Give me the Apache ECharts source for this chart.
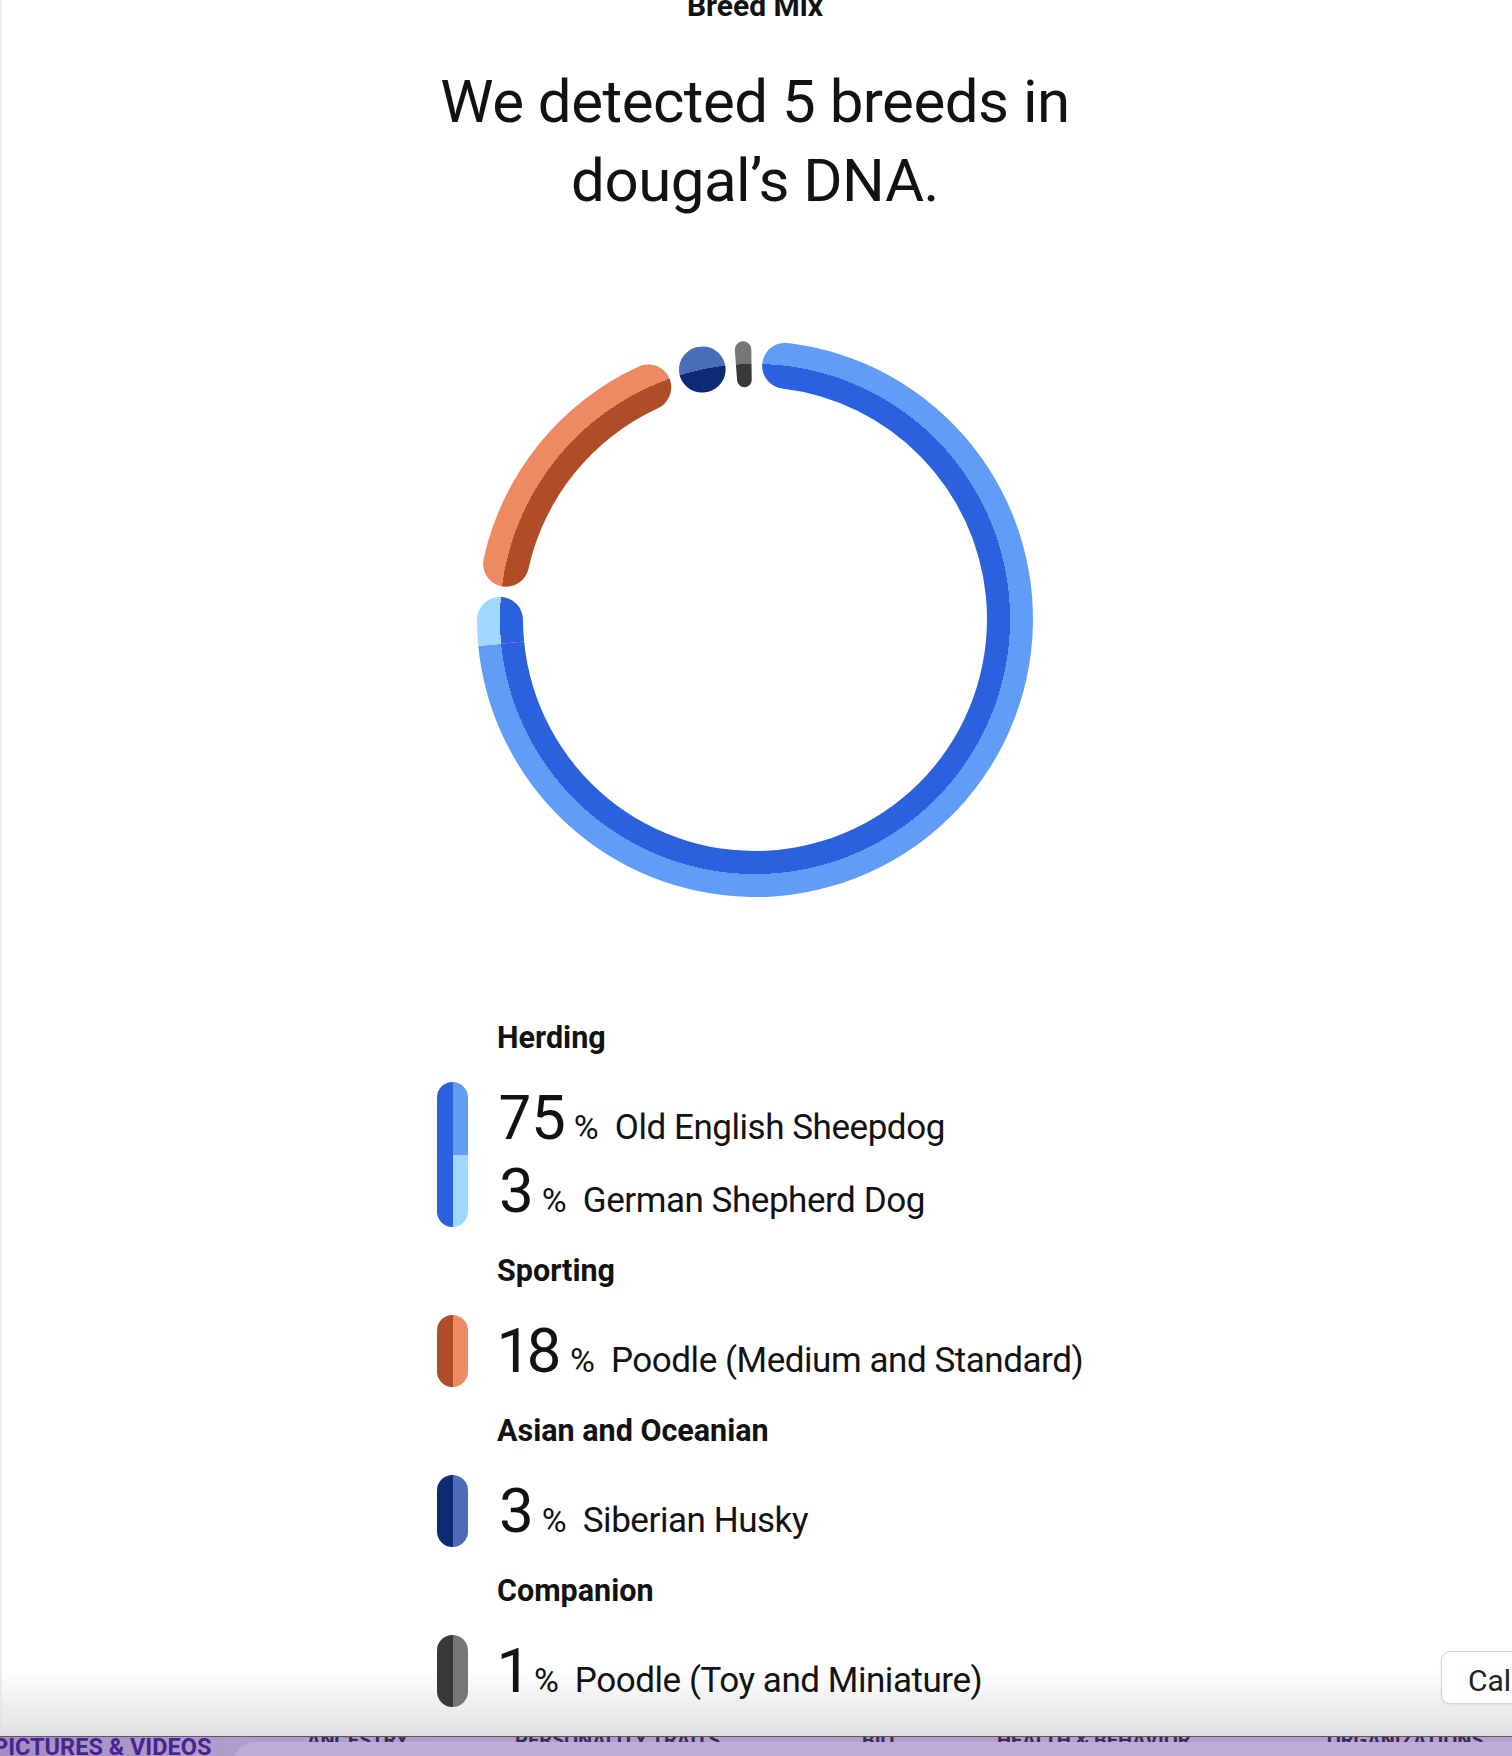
<!DOCTYPE html>
<html>
<head>
<meta charset="utf-8">
<script src="https://cdn.jsdelivr.net/npm/echarts@6/dist/echarts.min.js"></script>
<style>
  html, body { margin: 0; padding: 0; }
  body {
    width: 1512px; height: 1756px; overflow: hidden; position: relative;
    background: #fff; color: #121212;
    font-family: Roboto, 'Liberation Sans', sans-serif;
  }
  .abs { position: absolute; white-space: nowrap; line-height: 1; }
  #edge { position: absolute; left: 0; top: 0; width: 2px; height: 1736px; background: #ededed; }
  #kicker { left: 0; width: 1510px; text-align: center; font-size: 30px; font-weight: 700; top: -9px; }
  .title { left: 0; width: 1510px; text-align: center; font-size: 60px; letter-spacing: -0.5px; }
  #chart { position: absolute; left: 0; top: 300px; width: 1512px; height: 640px; }
  #fade {
    position: absolute; left: 0; top: 1670px; width: 1512px; height: 66px;
    background: linear-gradient(to bottom, rgba(226,226,226,0), rgba(224,224,224,1));
  }
  .head { font-size: 30.5px; font-weight: 700; }
  .row { display: flex; align-items: baseline; }
  .row span { line-height: 1; }
  .num { font-size: 62px; font-weight: 400; font-variant-numeric: proportional-nums; font-feature-settings: "pnum" 1; }
  .pct { font-size: 34px; margin-left: 8px; }
  .name { font-size: 35px; margin-left: 16px; letter-spacing: -0.45px; }
  .pill { position: absolute; width: 31px; border-radius: 15.5px; overflow: hidden; display: flex; }
  .pill .l { width: 50%; height: 100%; }
  .pill .r { width: 50%; height: 100%; display: flex; flex-direction: column; }
  .pill .r div { flex: 1; }
  #calc {
    position: absolute; left: 1441px; top: 1651px; width: 120px; height: 53px; box-sizing: border-box;
    border: 1px solid #d6d6d6; border-radius: 9px; background: #fff;
    box-shadow: 0 1px 3px rgba(0,0,0,0.08);
    font-size: 30px; line-height: 53px; padding: 2px 0 0 26px; color: #222; overflow: hidden;
  }
  #nav { position: absolute; left: 0; top: 1736px; width: 1512px; height: 20px; overflow: hidden;
    background: linear-gradient(to right, #a28ec1, #b19dcd 240px, #b6a1d1); border-top: 1px solid #5a5a5a; box-sizing: border-box; }
  #nav .item { position: absolute; top: -7px; font-size: 20px; font-weight: 700; color: #3b2a5e; line-height: 1; }
  #tab { position: absolute; left: 232px; top: 5px; width: 1400px; height: 30px; background: #c0acd8; border-top-left-radius: 24px; }
  #pv { position: absolute; left: -7px; top: 0px; font-size: 23.5px; font-weight: 700; color: #4a2391; line-height: 20px; }
</style>
</head>
<body>
<div id="edge"></div>
<div id="kicker" class="abs">Breed Mix</div>
<div class="abs title" style="top:72px">We detected 5 breeds in</div>
<div class="abs title" style="top:151px">dougal’s DNA.</div>
<div id="fade"></div>
<div id="chart"></div>
<div id="legend"></div>
<div id="calc">Calculate</div>
<div id="nav">
  <div class="item" style="left:307px">ANCESTRY</div>
  <div class="item" style="left:515px">PERSONALITY TRAITS</div>
  <div class="item" style="left:862px">BIO</div>
  <div class="item" style="left:997px">HEALTH &amp; BEHAVIOR</div>
  <div class="item" style="left:1327px">ORGANIZATIONS</div>
  <div id="tab"></div>
  <div id="pv">PICTURES &amp; VIDEOS</div>
</div>
<script>
// breed groups and the breeds detected in each
const groups = ['Herding', 'Sporting', 'Asian and Oceanian', 'Companion'];
const groupColors = ['#2b60de', '#b04d29', '#0d2b73', '#383838'];

const breeds = [
  'Old English Sheepdog',
  'German Shepherd Dog',
  'Poodle (Medium and Standard)',
  'Siberian Husky',
  'Poodle (Toy and Miniature)',
];
const breedGroup = [0, 0, 1, 2, 3];
const breedPct = [75, 3, 18, 3, 1];
const breedColors = ['#619cf6', '#9fd8fc', '#ed8963', '#4a6db5', '#767676'];

// ring geometry
const CX = 755, CY = 319;
const R_IN = 232, R_SPLIT = 255, R_OUT = 278;
const CAP = 23;
const GAP = 0.68;

// inner half = group colour, outer half = breed colour
const ringFill = (inner, outer) => {
  const s = R_SPLIT / R_OUT;
  return new echarts.graphic.RadialGradient(CX, CY, R_OUT, [
    { offset: 0, color: inner },
    { offset: s, color: inner },
    { offset: s, color: outer },
    { offset: 1, color: outer },
  ], true);
};

const pieData = [];
breeds.forEach((name, i) => {
  const g = breedGroup[i];
  const first = i === 0 || breedGroup[i - 1] !== g;
  const last = i === breeds.length - 1 || breedGroup[i + 1] !== g;
  const s = first ? CAP : 0;
  const e = last ? CAP : 0;
  pieData.push({
    name: name,
    value: breedPct[i],
    itemStyle: { color: ringFill(groupColors[g], breedColors[i]), borderRadius: [s, e, s, e] },
  });
  if (last) {
    pieData.push({ name: '', value: GAP, itemStyle: { color: 'rgba(0,0,0,0)', borderRadius: 0 } });
  }
});

const chart = echarts.init(document.getElementById('chart'));
chart.setOption({
  animation: false,
  series: [
    {
      type: 'pie',
      center: [CX, CY],
      radius: [R_IN, R_OUT],
      startAngle: 88.4,
      clockwise: true,
      silent: true,
      avoidLabelOverlap: false,
      label: { show: false },
      labelLine: { show: false },
      data: pieData,
    },
  ],
});

// legend below the ring
const legend = document.getElementById('legend');
const HEAD_X = 497, ROW_X = 499, PILL_X = 437;
const NUM_FS = 62, HEAD_FS = 30.5, ASC = 0.842;
let base = 1049;
groups.forEach((g, gi) => {
  const head = document.createElement('div');
  head.className = 'abs head';
  head.style.left = HEAD_X + 'px';
  head.style.top = (base - ASC * HEAD_FS) + 'px';
  head.textContent = g;
  legend.appendChild(head);

  const members = breeds.map((b, i) => i).filter(i => breedGroup[i] === gi);
  base += 90;
  const firstBase = base;
  members.forEach((i, k) => {
    if (k > 0) base += 73;
    const row = document.createElement('div');
    row.className = 'abs row';
    row.style.left = ROW_X + 'px';
    row.style.top = (base - ASC * NUM_FS) + 'px';
    row.innerHTML = '<span class="num">' + breedPct[i] + '</span><span class="pct">%</span><span class="name"></span>';
    row.querySelector('.name').textContent = breeds[i];
    legend.appendChild(row);
  });
  const lastBase = base;

  const pill = document.createElement('div');
  pill.className = 'pill';
  pill.style.left = PILL_X + 'px';
  pill.style.top = (firstBase - 57) + 'px';
  pill.style.height = (lastBase + 15 - (firstBase - 57)) + 'px';
  let right = '';
  members.forEach(i => { right += '<div style="background:' + breedColors[i] + '"></div>'; });
  pill.innerHTML = '<div class="l" style="background:' + groupColors[gi] + '"></div><div class="r">' + right + '</div>';
  legend.appendChild(pill);

  base += 70;
});
</script>
</body>
</html>
